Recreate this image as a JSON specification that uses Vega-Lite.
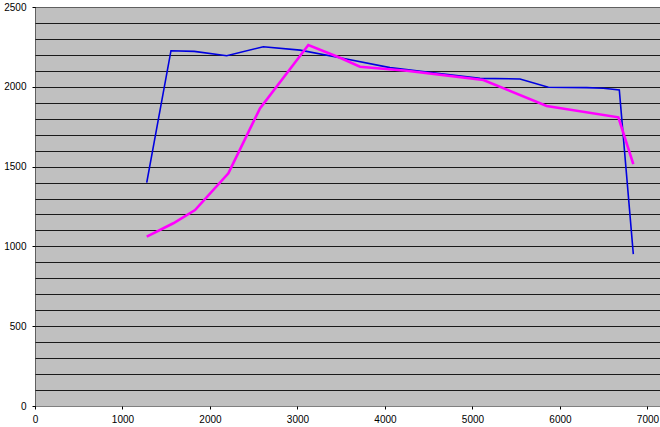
{
  "$schema": "https://vega.github.io/schema/vega-lite/v6.json",
  "width": 625,
  "height": 399,
  "autosize": "none",
  "padding": {"left": 35, "top": 7, "right": 0, "bottom": 21},
  "background": "#ffffff",
  "config": {
    "view": {"fill": "#c0c0c0", "stroke": null},
    "axis": {"labelFont": "Liberation Sans", "labelFontSize": 10, "labelColor": "#000000"}
  },
  "data": {
    "values": [
      {"series": "A", "rpm": 1277, "value": 1399},
      {"series": "A", "rpm": 1554, "value": 2226},
      {"series": "A", "rpm": 1820, "value": 2222},
      {"series": "A", "rpm": 2191, "value": 2195},
      {"series": "A", "rpm": 2609, "value": 2251},
      {"series": "A", "rpm": 3029, "value": 2230},
      {"series": "A", "rpm": 3486, "value": 2182},
      {"series": "A", "rpm": 4057, "value": 2120},
      {"series": "A", "rpm": 4600, "value": 2085},
      {"series": "A", "rpm": 5086, "value": 2053},
      {"series": "A", "rpm": 5543, "value": 2049},
      {"series": "A", "rpm": 5867, "value": 1997},
      {"series": "A", "rpm": 6305, "value": 1995},
      {"series": "A", "rpm": 6495, "value": 1991},
      {"series": "A", "rpm": 6678, "value": 1980},
      {"series": "A", "rpm": 6838, "value": 952},
      {"series": "B", "rpm": 1277, "value": 1061},
      {"series": "B", "rpm": 1581, "value": 1145},
      {"series": "B", "rpm": 1829, "value": 1228},
      {"series": "B", "rpm": 2210, "value": 1458},
      {"series": "B", "rpm": 2571, "value": 1865},
      {"series": "B", "rpm": 3124, "value": 2262},
      {"series": "B", "rpm": 3486, "value": 2182},
      {"series": "B", "rpm": 3714, "value": 2126},
      {"series": "B", "rpm": 4248, "value": 2101},
      {"series": "B", "rpm": 5124, "value": 2043},
      {"series": "B", "rpm": 5848, "value": 1880},
      {"series": "B", "rpm": 6667, "value": 1809},
      {"series": "B", "rpm": 6838, "value": 1516}
    ]
  },
  "mark": {"type": "line", "clip": true},
  "encoding": {
    "x": {
      "field": "rpm",
      "type": "quantitative",
      "scale": {"domain": [0, 7143], "nice": false, "zero": false},
      "axis": {
        "title": null,
        "values": [0, 1000, 2000, 3000, 4000, 5000, 6000, 7000],
        "format": "d",
        "grid": false,
        "domainColor": "#000000",
        "domainDash": [1, 1],
        "tickColor": "#000000",
        "tickSize": 3,
        "labelPadding": 5,
        "labelFlush": false
      }
    },
    "y": {
      "field": "value",
      "type": "quantitative",
      "scale": {"domain": [0, 2500], "nice": false},
      "axis": {
        "title": null,
        "values": [0, 100, 200, 300, 400, 500, 600, 700, 800, 900, 1000, 1100, 1200, 1300, 1400, 1500, 1600, 1700, 1800, 1900, 2000, 2100, 2200, 2300, 2400, 2500],
        "labelExpr": "datum.value % 500 === 0 ? datum.label : ''",
        "format": "d",
        "grid": true,
        "gridColor": {"condition": {"test": "datum.value === 2500 || datum.value === 0", "value": "#000000"}, "value": "#1a1a1a"},
        "gridDash": {"condition": {"test": "datum.value === 2500", "value": [1, 1]}, "value": []},
        "gridOpacity": {"condition": {"test": "datum.value === 0", "value": 0}, "value": 1},
        "domainColor": "#000000",
        "domainDash": [1, 1],
        "tickColor": "#000000",
        "tickOpacity": {"condition": {"test": "datum.value % 500 === 0", "value": 1}, "value": 0},
        "tickSize": 3,
        "labelPadding": 6,
        "labelFlush": false
      }
    },
    "color": {
      "field": "series",
      "type": "nominal",
      "scale": {"domain": ["A", "B"], "range": ["#0000e0", "#ff00ff"]},
      "legend": null
    },
    "strokeWidth": {
      "field": "series",
      "type": "nominal",
      "scale": {"domain": ["A", "B"], "range": [1.6, 2.6]},
      "legend": null
    }
  }
}
